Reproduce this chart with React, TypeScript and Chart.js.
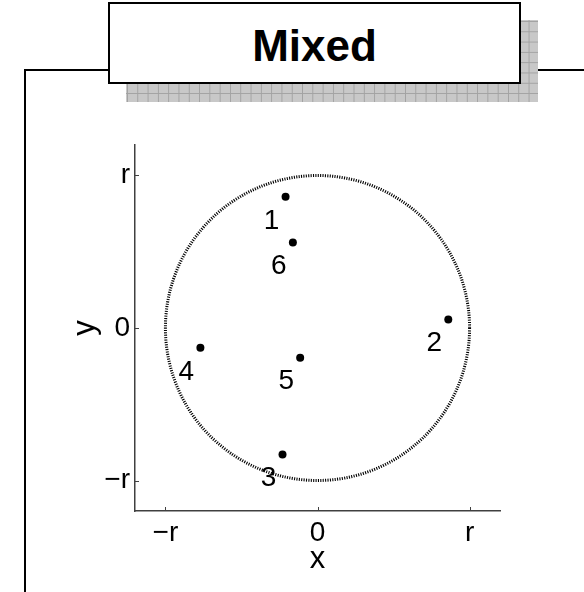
import { useEffect, useRef } from 'react';
import { Chart, registerables } from 'chart.js';

Chart.register(...registerables);

// Labelled points inside the circle of radius r
const pointIds = ['1', '2', '3', '4', '5', '6'];
const pointX = [-0.21, 0.86, -0.23, -0.77, -0.114, -0.162];
const pointY = [0.86, 0.055, -0.83, -0.13, -0.195, 0.56];

// Axis ticks, expressed in units of r
const tickValues = [-1, 0, 1];
const tickLabels = ['\u2212r', '0', 'r'];

const axisMin = -1.2;
const axisMax = 1.2;
const circleRadius = 1;

const titleText = 'Mixed';
const xTitle = 'x';
const yTitle = 'y';

const FONT = '"Liberation Sans", Arial, Helvetica, sans-serif';

const decorations = {
  id: 'decorations',
  beforeDatasetsDraw(chart: any) {
    const { ctx, scales } = chart;
    const xs = scales.x;
    const ys = scales.y;
    const cx = xs.getPixelForValue(0);
    const cy = ys.getPixelForValue(0);
    const rx = xs.getPixelForValue(circleRadius) - cx;
    const ry = cy - ys.getPixelForValue(circleRadius);
    ctx.save();
    ctx.beginPath();
    ctx.ellipse(cx, cy, rx, ry, 0, 0, Math.PI * 2);
    ctx.setLineDash([1.1, 1.3]);
    ctx.lineWidth = 3;
    ctx.strokeStyle = '#000';
    ctx.stroke();
    ctx.restore();
  },
  afterDatasetsDraw(chart: any) {
    const { ctx } = chart;
    const meta = chart.getDatasetMeta(0);
    ctx.save();
    ctx.font = `28px ${FONT}`;
    ctx.fillStyle = '#000';
    ctx.textAlign = 'center';
    ctx.textBaseline = 'middle';
    meta.data.forEach((el: any, i: number) => {
      ctx.fillText(pointIds[i], el.x - 14, el.y + 24);
    });
    ctx.restore();
  },
  afterDraw(chart: any) {
    const { ctx, chartArea, scales } = chart;
    const xs = scales.x;
    const ys = scales.y;
    ctx.save();
    // inward tick marks
    ctx.strokeStyle = '#404040';
    ctx.lineWidth = 1;
    ctx.beginPath();
    tickValues.forEach((v) => {
      const px = Math.round(xs.getPixelForValue(v)) + 0.5;
      ctx.moveTo(px, chartArea.bottom);
      ctx.lineTo(px, chartArea.bottom - 4);
      const py = Math.round(ys.getPixelForValue(v)) + 0.5;
      ctx.moveTo(chartArea.left, py);
      ctx.lineTo(chartArea.left + 4, py);
    });
    ctx.stroke();

    // axis titles
    ctx.fillStyle = '#000';
    ctx.font = `31px ${FONT}`;
    ctx.textAlign = 'center';
    ctx.textBaseline = 'alphabetic';
    ctx.fillText(xTitle, (chartArea.left + chartArea.right) / 2, chartArea.bottom + 57);
    ctx.translate(chartArea.left - 41, (chartArea.top + chartArea.bottom) / 2);
    ctx.rotate(-Math.PI / 2);
    ctx.fillText(yTitle, 0, 0);
    ctx.restore();
  },
};

function axisOptions(isX: boolean) {
  return {
    type: 'linear' as const,
    position: isX ? 'bottom' : 'left',
    min: axisMin,
    max: axisMax,
    afterFit(scale: any) {
      if (isX) scale.height = 45;
      else scale.width = 60;
    },
    afterBuildTicks(scale: any) {
      scale.ticks = tickValues.map((v) => ({ value: v }));
    },
    grid: { display: true, drawOnChartArea: false, drawTicks: false },
    border: { display: true, color: '#404040', width: 1.5 },
    ticks: {
      autoSkip: false,
      maxRotation: 0,
      padding: 5,
      color: '#000',
      font: { size: 28, family: FONT },
      callback: (_v: any, index: number) => tickLabels[index],
    },
  };
}

export default function App() {
  const canvasRef = useRef<HTMLCanvasElement | null>(null);

  useEffect(() => {
    const canvas = canvasRef.current;
    if (!canvas) return;
    const chart = new Chart(canvas, {
      type: 'scatter',
      data: {
        datasets: [
          {
            data: pointX.map((x, i) => ({ x, y: pointY[i] })),
            pointRadius: 4,
            pointBorderWidth: 0,
            pointBackgroundColor: '#000',
            pointBorderColor: '#000',
          },
        ],
      },
      options: {
        animation: false,
        responsive: false,
        devicePixelRatio: 1,
        events: [],
        layout: { padding: { left: 75, top: 145, right: 84, bottom: 36 } },
        plugins: {
          legend: { display: false },
          tooltip: { enabled: false },
          title: { display: false },
        },
        scales: {
          x: axisOptions(true) as any,
          y: axisOptions(false) as any,
        },
      },
      plugins: [decorations],
    });
    return () => chart.destroy();
  }, []);

  return (
    <div
      style={{
        position: 'fixed',
        left: 0,
        top: 0,
        width: 584,
        height: 592,
        overflow: 'hidden',
        background: '#fff',
      }}
    >
      <canvas ref={canvasRef} width={584} height={592} style={{ display: 'block' }} />
      {/* panel frame */}
      <div
        style={{
          position: 'absolute',
          left: 24,
          top: 69,
          width: 620,
          height: 600,
          borderLeft: '2px solid #000',
          borderTop: '2px solid #000',
        }}
      />
      {/* title shadow */}
      <div
        style={{
          position: 'absolute',
          left: 126,
          top: 20,
          width: 412,
          height: 82,
          backgroundColor: '#c8c8c8',
          backgroundImage:
            'linear-gradient(#a2a2a2 1px, transparent 1px), linear-gradient(90deg, #a2a2a2 1px, transparent 1px)',
          backgroundSize: '10.3px 10.3px',
          backgroundPosition: '1px 1px',
        }}
      />
      {/* title box */}
      <div
        style={{
          position: 'absolute',
          left: 108,
          top: 2,
          width: 413,
          height: 82,
          boxSizing: 'border-box',
          border: '2px solid #000',
          background: '#fff',
          display: 'flex',
          alignItems: 'center',
          justifyContent: 'center',
          fontFamily: FONT,
          fontWeight: 'bold',
          fontSize: 44,
          color: '#000',
          paddingTop: 6,
        }}
      >
        {titleText}
      </div>
    </div>
  );
}
